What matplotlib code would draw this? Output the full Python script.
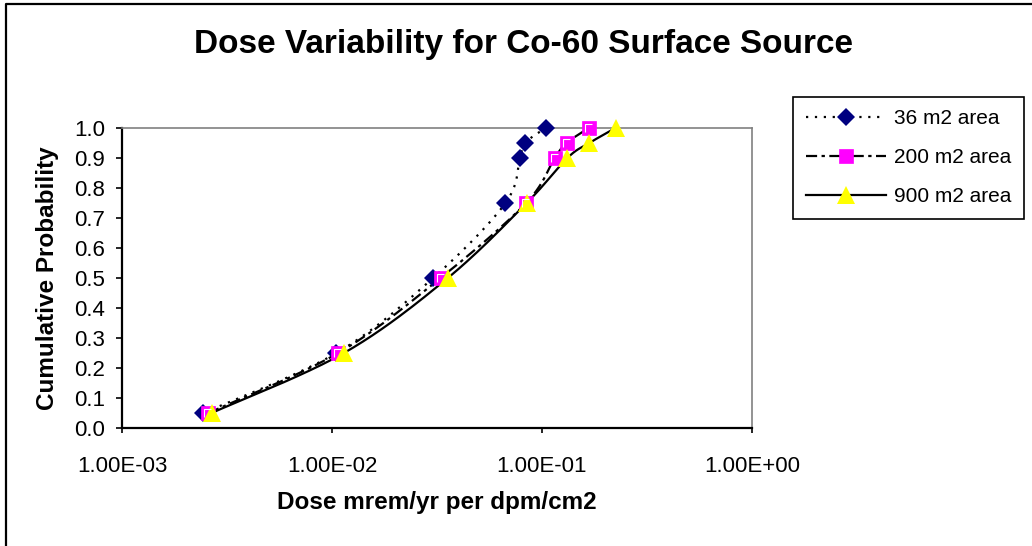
import numpy as np
import matplotlib
matplotlib.use("Agg")
import matplotlib.pyplot as plt
from matplotlib.lines import Line2D
from matplotlib.path import Path
from matplotlib.ticker import FixedLocator, FuncFormatter, NullLocator

plt.rcParams['font.family'] = ['Liberation Sans', 'DejaVu Sans']

# cumulative probabilities (same for every area)
prob_36 = [0.05, 0.25, 0.50, 0.75, 0.90, 0.95, 1.00]
prob_200 = [0.05, 0.25, 0.50, 0.75, 0.90, 0.95, 1.00]
prob_900 = [0.05, 0.25, 0.50, 0.75, 0.90, 0.95, 1.00]

# dose values (mrem/yr per dpm/cm2)
dose_36 = [2.44e-3, 1.05e-2, 3.03e-2, 6.7e-2, 7.85e-2, 8.3e-2, 1.04e-1]
dose_200 = [2.58e-3, 1.07e-2, 3.29e-2, 8.4e-2, 1.15e-1, 1.31e-1, 1.67e-1]
dose_900 = [2.67e-3, 1.14e-2, 3.56e-2, 8.45e-2, 1.32e-1, 1.68e-1, 2.24e-1]

labels = ['36 m2 area', '200 m2 area', '900 m2 area']
x_ticks = [1e-3, 1e-2, 1e-1, 1e0]


def smooth_line(xs, ys, n=25):
    # Excel-like smoothed line: cubic bezier through the points,
    # computed in screen-like space (log x, linear y)
    P = np.column_stack([np.log10(xs) * 210.0, np.asarray(ys) * 300.0])
    out = []
    t = np.linspace(0, 1, n)[:, None]
    for i in range(len(P) - 1):
        p0 = P[i - 1] if i > 0 else P[i]
        p1, p2 = P[i], P[i + 1]
        p3 = P[i + 2] if i + 2 < len(P) else P[i + 1]
        c1 = p1 + (p2 - p0) / 6.0
        c2 = p2 - (p3 - p1) / 6.0
        seg = ((1 - t) ** 3) * p1 + 3 * ((1 - t) ** 2) * t * c1 \
            + 3 * (1 - t) * t ** 2 * c2 + t ** 3 * p2
        out.append(seg if i == 0 else seg[1:])
    out = np.vstack(out)
    return 10 ** (out[:, 0] / 210.0), out[:, 1] / 300.0


fig = plt.figure(figsize=(10.32, 5.46), dpi=100)
ax = fig.add_axes([122 / 1032, 1 - 428 / 546, 630 / 1032, 300 / 546])

series = [
    (dose_36, prob_36, (0, (1, 3)), 'D', '#000080', 9.0),
    (dose_200, prob_200, (0, (5, 2, 1.5, 2)), 's', '#FF00FF', 9.5),
    (dose_900, prob_900, '-', '^', '#FFFF00', 12.5),
]

# white inner corner mark that Excel draws inside the square marker
corner = Path([(-0.5, -0.5), (-0.27, -0.3), (-0.27, 0.27), (0.22, 0.27)],
              [Path.MOVETO, Path.MOVETO, Path.LINETO, Path.LINETO])

handles = []
for (xs, ys, ls, mk, col, ms), lab in zip(series, labels):
    sx, sy = smooth_line(xs, ys)
    ax.plot(sx, sy, color='black', lw=1.6, linestyle=ls,
            dash_capstyle='butt', solid_capstyle='butt', zorder=2)
    ax.plot(xs, ys, linestyle='none', marker=mk, ms=ms, mfc=col,
            mec=col, mew=0 if mk != 's' else 0.5, zorder=3, clip_on=False)
    if mk == 's':
        ax.plot(xs, ys, linestyle='none', marker=corner, ms=ms, mfc='none',
                mec='white', mew=0.8, zorder=3.1, clip_on=False)
    handles.append(Line2D([], [], color='black', lw=1.6, linestyle=ls,
                          dash_capstyle='butt', marker=mk, ms=ms, mfc=col,
                          mec=col, mew=0 if mk != 's' else 0.5))

ax.set_xscale('log')
ax.set_xlim(1e-3, 1e0)
ax.set_ylim(0, 1.0)
ax.xaxis.set_major_locator(FixedLocator(x_ticks))
ax.xaxis.set_minor_locator(NullLocator())
ax.xaxis.set_major_formatter(FuncFormatter(lambda v, p: '%.2E' % v))
ax.set_yticks(np.arange(0, 1.01, 0.1))
ax.yaxis.set_major_formatter(FuncFormatter(lambda v, p: '%.1f' % v))

ax.tick_params(axis='x', direction='out', length=3.8, width=1.2,
               pad=16.5, labelsize=16)
ax.tick_params(axis='y', direction='out', length=4.5, width=1.2,
               pad=7.5, labelsize=16)

for side in ['left', 'bottom']:
    ax.spines[side].set_color('black')
    ax.spines[side].set_linewidth(1.6)
for side in ['top', 'right']:
    ax.spines[side].set_color('#808080')
    ax.spines[side].set_linewidth(1.2)

ax.set_xlabel('Dose mrem/yr per dpm/cm2', fontsize=17.5, fontweight='bold',
              va='center')
ax.xaxis.set_label_coords(0.5, (428 - 502) / 300)
ax.set_ylabel('Cumulative Probability', fontsize=17.5, fontweight='bold',
              va='center', ha='center')
ax.yaxis.set_label_coords((48 - 122) / 630, 0.5)

fig.text(524 / 1032, 1 - 45 / 546, 'Dose Variability for Co-60 Surface Source',
         ha='center', va='center', fontsize=24, fontweight='bold')

leg = ax.legend(handles, labels, loc='upper left',
                bbox_to_anchor=(793 / 1032, 1 - 97 / 546),
                bbox_transform=fig.transFigure, borderaxespad=0,
                fontsize=15, numpoints=1, handlelength=3.85,
                handletextpad=0.4, labelspacing=0.95, borderpad=0.6,
                fancybox=False, shadow=False, framealpha=1)
leg.get_frame().set_edgecolor('black')
leg.get_frame().set_linewidth(1.2)

# outer chart border (only top and left edges are visible)
fig.add_artist(Line2D([6 / 1032, 6 / 1032, 1.0], [0.0, 1 - 4 / 546, 1 - 4 / 546],
                      transform=fig.transFigure, color='black', lw=1.6))

fig.savefig('out.png', dpi=100)
